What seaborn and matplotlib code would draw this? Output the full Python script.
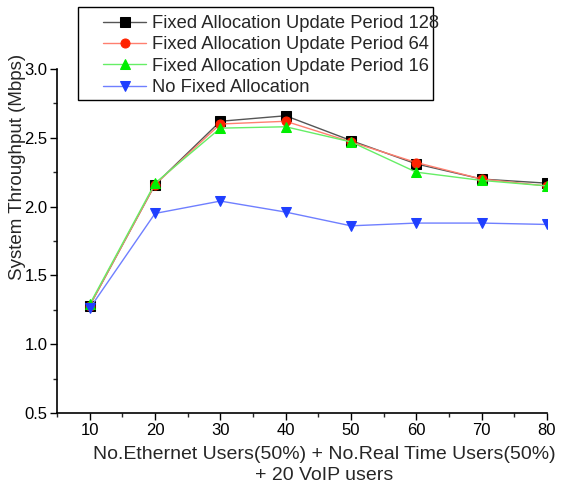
import pandas as pd
import matplotlib
matplotlib.use("Agg")
import matplotlib.pyplot as plt
import seaborn as sns
from matplotlib.ticker import MultipleLocator
from matplotlib.patches import Rectangle

# data
users = [10, 20, 30, 40, 50, 60, 70, 80]
period_128 = [1.28, 2.16, 2.62, 2.66, 2.48, 2.31, 2.20, 2.17]
period_64 = [1.28, 2.16, 2.60, 2.62, 2.47, 2.32, 2.20, 2.15]
period_16 = [1.29, 2.17, 2.57, 2.58, 2.47, 2.25, 2.19, 2.15]
no_fixed = [1.26, 1.95, 2.04, 1.96, 1.86, 1.88, 1.88, 1.87]

series = {
    "Fixed Allocation Update Period 128": period_128,
    "Fixed Allocation Update Period 64": period_64,
    "Fixed Allocation Update Period 16": period_16,
    "No Fixed Allocation": no_fixed,
}

sns.set_theme(style="ticks")
plt.rcParams['font.family'] = ['Liberation Sans', 'DejaVu Sans']

rows = []
for name, vals in series.items():
    for u, v in zip(users, vals):
        rows.append({"users": u, "throughput": v, "series": name})
df = pd.DataFrame(rows)

line_colors = ["#555555", "#ff7f6f", "#66ee66", "#6f7fff"]
marker_colors = ["#000000", "#ff2200", "#00ee00", "#1f3fff"]
markers = ["s", "o", "^", "v"]

fig = plt.figure(figsize=(5.65, 4.91), dpi=100)
ax = fig.add_axes([0.101, 0.159, 0.867, 0.7005])

for i, name in enumerate(series):
    sub = df[df["series"] == name]
    sns.lineplot(data=sub, x="users", y="throughput", ax=ax,
                 color=line_colors[i], linewidth=1.0,
                 marker=markers[i], markersize=6.5,
                 markerfacecolor=marker_colors[i],
                 markeredgecolor=marker_colors[i],
                 label=name, legend=False)

ax.set_xlim(5, 80)
ax.set_ylim(0.5, 3.0)
ax.set_xticks(users)
ax.xaxis.set_minor_locator(MultipleLocator(5))
ax.yaxis.set_major_locator(MultipleLocator(0.5))
ax.yaxis.set_minor_locator(MultipleLocator(0.25))
ax.set_yticklabels([f"{t:.1f}" for t in ax.get_yticks()])
ax.tick_params(which="major", length=5, width=1, labelsize=12, colors="black", pad=2)
ax.tick_params(which="minor", length=3, width=1)
sns.despine(ax=ax)
for s in ["left", "bottom"]:
    ax.spines[s].set_color("black")
    ax.spines[s].set_linewidth(1.2)

ax.set_ylabel("System Throughput (Mbps)", fontsize=13.5)
ax.yaxis.set_label_coords(-0.063, 0.715)
ax.set_xlabel("No.Ethernet Users(50%) + No.Real Time Users(50%)\n+ 20 VoIP users",
              fontsize=14, linespacing=1.3)
ax.xaxis.set_label_coords(0.545, -0.095)
ax.xaxis.label.set_va("top")

# legend box (drawn separately to get the wide left margin)
fig.patches.append(Rectangle((78 / 565, 1 - 100 / 491), 355 / 565, 93 / 491,
                             transform=fig.transFigure, fill=False,
                             edgecolor="black", linewidth=1.0))
handles, labels = ax.get_legend_handles_labels()
leg = fig.legend(handles, labels, loc="upper left",
                 bbox_to_anchor=(103 / 565, 1 - 15 / 491),
                 fontsize=13.2, frameon=False,
                 handlelength=2.35, handletextpad=0.3,
                 borderpad=0, borderaxespad=0, labelspacing=0.24)

fig.savefig("out.png", dpi=100)
